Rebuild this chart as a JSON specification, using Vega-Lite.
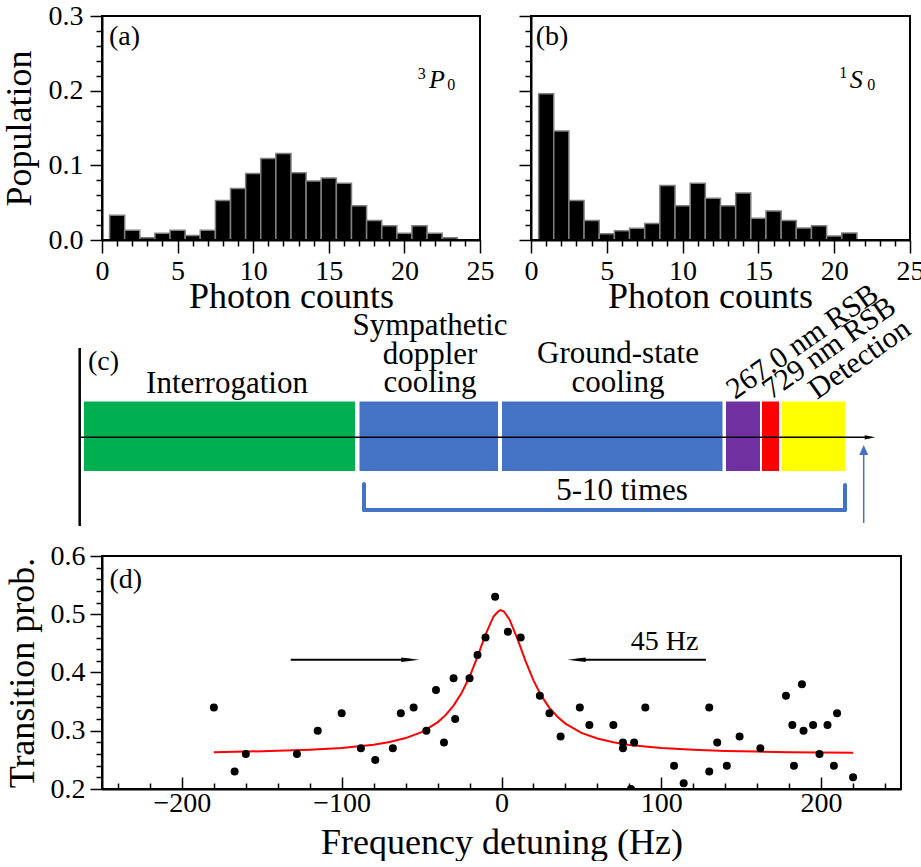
{
  "$schema": "https://vega.github.io/schema/vega-lite/v6.json",
  "padding": {"left": 1, "top": 2, "right": 0, "bottom": 0},
  "bounds": "flush",
  "spacing": 26,
  "config": {
    "font": "Liberation Serif",
    "view": {"stroke": "black", "strokeWidth": 2},
    "axis": {
      "grid": false, "domainColor": "black", "domainWidth": 2,
      "tickColor": "black", "tickWidth": 1.5,
      "labelFont": "Liberation Serif", "labelFontSize": 28, "labelColor": "black",
      "titleFont": "Liberation Serif", "titleFontSize": 36, "titleFontWeight": "normal", "titleColor": "black",
      "labelFlush": false
    },
    "text": {"font": "Liberation Serif", "fontSize": 28, "color": "black"}
  },
  "datasets": {
    "hist_3P0": [
      {"bin_start": 0.5, "bin_end": 1.5, "population": 0.033},
      {"bin_start": 1.5, "bin_end": 2.5, "population": 0.013},
      {"bin_start": 2.5, "bin_end": 3.5, "population": 0.003},
      {"bin_start": 3.5, "bin_end": 4.5, "population": 0.009},
      {"bin_start": 4.5, "bin_end": 5.5, "population": 0.013},
      {"bin_start": 5.5, "bin_end": 6.5, "population": 0.006},
      {"bin_start": 6.5, "bin_end": 7.5, "population": 0.013},
      {"bin_start": 7.5, "bin_end": 8.5, "population": 0.053},
      {"bin_start": 8.5, "bin_end": 9.5, "population": 0.069},
      {"bin_start": 9.5, "bin_end": 10.5, "population": 0.089},
      {"bin_start": 10.5, "bin_end": 11.5, "population": 0.109},
      {"bin_start": 11.5, "bin_end": 12.5, "population": 0.116},
      {"bin_start": 12.5, "bin_end": 13.5, "population": 0.090},
      {"bin_start": 13.5, "bin_end": 14.5, "population": 0.079},
      {"bin_start": 14.5, "bin_end": 15.5, "population": 0.083},
      {"bin_start": 15.5, "bin_end": 16.5, "population": 0.076},
      {"bin_start": 16.5, "bin_end": 17.5, "population": 0.046},
      {"bin_start": 17.5, "bin_end": 18.5, "population": 0.026},
      {"bin_start": 18.5, "bin_end": 19.5, "population": 0.019},
      {"bin_start": 19.5, "bin_end": 20.5, "population": 0.009},
      {"bin_start": 20.5, "bin_end": 21.5, "population": 0.019},
      {"bin_start": 21.5, "bin_end": 22.5, "population": 0.009},
      {"bin_start": 22.5, "bin_end": 23.5, "population": 0.003}
    ],
    "hist_1S0": [
      {"bin_start": 0.5, "bin_end": 1.5, "population": 0.196},
      {"bin_start": 1.5, "bin_end": 2.5, "population": 0.146},
      {"bin_start": 2.5, "bin_end": 3.5, "population": 0.053},
      {"bin_start": 3.5, "bin_end": 4.5, "population": 0.026},
      {"bin_start": 4.5, "bin_end": 5.5, "population": 0.0085},
      {"bin_start": 5.5, "bin_end": 6.5, "population": 0.0125},
      {"bin_start": 6.5, "bin_end": 7.5, "population": 0.0156},
      {"bin_start": 7.5, "bin_end": 8.5, "population": 0.022},
      {"bin_start": 8.5, "bin_end": 9.5, "population": 0.073},
      {"bin_start": 9.5, "bin_end": 10.5, "population": 0.046},
      {"bin_start": 10.5, "bin_end": 11.5, "population": 0.076},
      {"bin_start": 11.5, "bin_end": 12.5, "population": 0.056},
      {"bin_start": 12.5, "bin_end": 13.5, "population": 0.046},
      {"bin_start": 13.5, "bin_end": 14.5, "population": 0.063},
      {"bin_start": 14.5, "bin_end": 15.5, "population": 0.029},
      {"bin_start": 15.5, "bin_end": 16.5, "population": 0.039},
      {"bin_start": 16.5, "bin_end": 17.5, "population": 0.026},
      {"bin_start": 17.5, "bin_end": 18.5, "population": 0.016},
      {"bin_start": 18.5, "bin_end": 19.5, "population": 0.019},
      {"bin_start": 19.5, "bin_end": 20.5, "population": 0.0054},
      {"bin_start": 20.5, "bin_end": 21.5, "population": 0.0094}
    ],
    "sequence": [
      {"phase": "Interrogation", "start": -1.8, "end": 25.3},
      {"phase": "Sympathetic doppler cooling", "start": 25.75, "end": 39.6},
      {"phase": "Ground-state cooling", "start": 40.0, "end": 62.05},
      {"phase": "267.0 nm RSB", "start": 62.4, "end": 65.8},
      {"phase": "729 nm RSB", "start": 66.0, "end": 67.7},
      {"phase": "Detection", "start": 67.95, "end": 74.3}
    ],
    "scan": [
      {"detuning": -180, "prob": 0.34}, {"detuning": -167, "prob": 0.23}, {"detuning": -160, "prob": 0.26},
      {"detuning": -128, "prob": 0.26}, {"detuning": -115, "prob": 0.30}, {"detuning": -100, "prob": 0.33},
      {"detuning": -88, "prob": 0.27}, {"detuning": -79, "prob": 0.25}, {"detuning": -68, "prob": 0.27},
      {"detuning": -63, "prob": 0.33}, {"detuning": -55, "prob": 0.34}, {"detuning": -47, "prob": 0.30},
      {"detuning": -41, "prob": 0.37}, {"detuning": -36, "prob": 0.28}, {"detuning": -30, "prob": 0.39},
      {"detuning": -29, "prob": 0.32}, {"detuning": -20, "prob": 0.39}, {"detuning": -15, "prob": 0.43},
      {"detuning": -10, "prob": 0.46}, {"detuning": -4, "prob": 0.53}, {"detuning": 4, "prob": 0.47},
      {"detuning": 12, "prob": 0.46}, {"detuning": 24, "prob": 0.36}, {"detuning": 30, "prob": 0.33},
      {"detuning": 37, "prob": 0.29}, {"detuning": 49, "prob": 0.34}, {"detuning": 55, "prob": 0.31},
      {"detuning": 70, "prob": 0.31}, {"detuning": 76, "prob": 0.28}, {"detuning": 76, "prob": 0.27},
      {"detuning": 83, "prob": 0.28}, {"detuning": 81, "prob": 0.20}, {"detuning": 90, "prob": 0.34},
      {"detuning": 108, "prob": 0.24}, {"detuning": 114, "prob": 0.21}, {"detuning": 130, "prob": 0.34},
      {"detuning": 130, "prob": 0.23}, {"detuning": 135, "prob": 0.28}, {"detuning": 141, "prob": 0.24},
      {"detuning": 149, "prob": 0.29}, {"detuning": 162, "prob": 0.27}, {"detuning": 178, "prob": 0.36},
      {"detuning": 182, "prob": 0.31}, {"detuning": 183, "prob": 0.24}, {"detuning": 188, "prob": 0.38},
      {"detuning": 189, "prob": 0.30}, {"detuning": 195, "prob": 0.31}, {"detuning": 199, "prob": 0.26},
      {"detuning": 204, "prob": 0.31}, {"detuning": 208, "prob": 0.24}, {"detuning": 210, "prob": 0.33},
      {"detuning": 220, "prob": 0.22}
    ],
    "fit": [
      {"detuning": -180, "prob": 0.2633}, {"detuning": -160, "prob": 0.2642}, {"detuning": -140, "prob": 0.2655},
      {"detuning": -120, "prob": 0.2674}, {"detuning": -100, "prob": 0.2705}, {"detuning": -80, "prob": 0.2761},
      {"detuning": -70, "prob": 0.2807}, {"detuning": -60, "prob": 0.2874}, {"detuning": -50, "prob": 0.2977},
      {"detuning": -40, "prob": 0.3144}, {"detuning": -35, "prob": 0.3268}, {"detuning": -30, "prob": 0.3431},
      {"detuning": -25, "prob": 0.3646}, {"detuning": -20, "prob": 0.3926}, {"detuning": -15, "prob": 0.4273},
      {"detuning": -10, "prob": 0.4650}, {"detuning": -5, "prob": 0.4962}, {"detuning": -2, "prob": 0.5050}, {"detuning": -0.5, "prob": 0.507},
      {"detuning": 1.5, "prob": 0.5048}, {"detuning": 5, "prob": 0.4911}, {"detuning": 10, "prob": 0.4576}, {"detuning": 15, "prob": 0.4199},
      {"detuning": 20, "prob": 0.3865}, {"detuning": 25, "prob": 0.3598}, {"detuning": 30, "prob": 0.3394},
      {"detuning": 35, "prob": 0.3240}, {"detuning": 40, "prob": 0.3123}, {"detuning": 50, "prob": 0.2964},
      {"detuning": 60, "prob": 0.2866}, {"detuning": 70, "prob": 0.2801}, {"detuning": 80, "prob": 0.2757},
      {"detuning": 100, "prob": 0.2703}, {"detuning": 120, "prob": 0.2673}, {"detuning": 140, "prob": 0.2654},
      {"detuning": 160, "prob": 0.2642}, {"detuning": 180, "prob": 0.2633}, {"detuning": 200, "prob": 0.2627},
      {"detuning": 220, "prob": 0.2622}
    ]
  },
  "vconcat": [
    {
      "width": 808, "height": 224,
      "view": {"stroke": null},
      "resolve": {"scale": {"x": "independent", "y": "independent"}, "axis": {"x": "independent", "y": "independent"}},
      "layer": [
        {
          "layer": [
            {
              "data": {"name": "hist_3P0"},
              "mark": {"type": "bar", "fill": "black", "stroke": "#808080", "strokeWidth": 1.5},
              "encoding": {
                "x": {"field": "bin_start", "type": "quantitative",
                  "scale": {"domain": [0, 25], "range": [0, 378], "nice": false, "zero": false},
                  "axis": {"orient": "bottom", "title": "Photon counts", "values": [0, 5, 10, 15, 20, 25],
                    "tickSize": 13, "labelPadding": 4, "titlePadding": -6}},
                "x2": {"field": "bin_end"},
                "y": {"field": "population", "type": "quantitative",
                  "scale": {"domain": [0, 0.3], "nice": false},
                  "axis": {"orient": "left", "title": "Population", "values": [0, 0.1, 0.2, 0.3], "format": ".1f",
                    "tickSize": 12, "labelPadding": 7, "titlePadding": 10}},
                "y2": {"datum": 0}
              }
            },
            {"data": {"values": [{"label": "frame"}]}, "mark": {"type": "rect", "fillOpacity": 0, "stroke": "black", "strokeWidth": 2},
             "encoding": {"x": {"datum": 0}, "x2": {"datum": 25}, "y": {"datum": 0}, "y2": {"datum": 0.3}}},
            {"data": {"values": [{"label": "(a)"}]}, "mark": {"type": "text", "align": "left", "baseline": "middle"},
             "encoding": {"x": {"datum": 0.46}, "y": {"datum": 0.272}, "text": {"field": "label"}}},
            {"data": {"values": [{"label": "3"}]}, "mark": {"type": "text", "align": "center", "baseline": "middle", "fontSize": 16},
             "encoding": {"x": {"datum": 21.15}, "y": {"datum": 0.222}, "text": {"field": "label"}}},
            {"data": {"values": [{"label": "P"}]}, "mark": {"type": "text", "align": "center", "baseline": "middle", "fontSize": 26, "fontStyle": "italic"},
             "encoding": {"x": {"datum": 22.15}, "y": {"datum": 0.214}, "text": {"field": "label"}}},
            {"data": {"values": [{"label": "0"}]}, "mark": {"type": "text", "align": "center", "baseline": "middle", "fontSize": 16},
             "encoding": {"x": {"datum": 23.1}, "y": {"datum": 0.207}, "text": {"field": "label"}}}
          ]
        },
        {
          "data": {"values": [{"label": "minor ticks (a)"}]},
          "mark": {"type": "point", "opacity": 0},
          "encoding": {
            "x": {"datum": 0, "type": "quantitative", "scale": {"domain": [0, 25], "range": [0, 378], "nice": false, "zero": false},
              "axis": {"orient": "bottom", "values": [1,2,3,4,6,7,8,9,11,12,13,14,16,17,18,19,21,22,23,24], "labels": false, "domain": false, "title": null, "tickSize": 6}},
            "y": {"datum": 0, "type": "quantitative", "scale": {"domain": [0, 0.3], "nice": false, "zero": false},
              "axis": {"orient": "left", "values": [0.02,0.04,0.06,0.08,0.12,0.14,0.16,0.18,0.22,0.24,0.26,0.28], "labels": false, "domain": false, "title": null, "tickSize": 6}}
          }
        },
        {
          "layer": [
            {
              "data": {"name": "hist_1S0"},
              "mark": {"type": "bar", "fill": "black", "stroke": "#808080", "strokeWidth": 1.5},
              "encoding": {
                "x": {"field": "bin_start", "type": "quantitative",
                  "scale": {"domain": [0, 25], "range": [429, 808], "nice": false, "zero": false},
                  "axis": {"orient": "bottom", "title": "Photon counts", "values": [0, 5, 10, 15, 20, 25],
                    "tickSize": 13, "labelPadding": 4, "titlePadding": -6, "titleX": 608}},
                "x2": {"field": "bin_end"},
                "y": {"field": "population", "type": "quantitative",
                  "scale": {"domain": [0, 0.3], "nice": false},
                  "axis": {"orient": "left", "offset": -429, "title": null, "labels": false, "values": [0, 0.1, 0.2, 0.3], "tickSize": 12}},
                "y2": {"datum": 0}
              }
            },
            {"data": {"values": [{"label": "frame"}]}, "mark": {"type": "rect", "fillOpacity": 0, "stroke": "black", "strokeWidth": 2},
             "encoding": {"x": {"datum": 0}, "x2": {"datum": 25}, "y": {"datum": 0}, "y2": {"datum": 0.3}}},
            {"data": {"values": [{"label": "(b)"}]}, "mark": {"type": "text", "align": "left", "baseline": "middle"},
             "encoding": {"x": {"datum": 0.31}, "y": {"datum": 0.272}, "text": {"field": "label"}}},
            {"data": {"values": [{"label": "1"}]}, "mark": {"type": "text", "align": "center", "baseline": "middle", "fontSize": 16},
             "encoding": {"x": {"datum": 20.6}, "y": {"datum": 0.224}, "text": {"field": "label"}}},
            {"data": {"values": [{"label": "S"}]}, "mark": {"type": "text", "align": "center", "baseline": "middle", "fontSize": 26, "fontStyle": "italic"},
             "encoding": {"x": {"datum": 21.45}, "y": {"datum": 0.214}, "text": {"field": "label"}}},
            {"data": {"values": [{"label": "0"}]}, "mark": {"type": "text", "align": "center", "baseline": "middle", "fontSize": 16},
             "encoding": {"x": {"datum": 22.45}, "y": {"datum": 0.207}, "text": {"field": "label"}}}
          ]
        },
        {
          "data": {"values": [{"label": "minor ticks (b)"}]},
          "mark": {"type": "point", "opacity": 0},
          "encoding": {
            "x": {"datum": 0, "type": "quantitative", "scale": {"domain": [0, 25], "range": [429, 808], "nice": false, "zero": false},
              "axis": {"orient": "bottom", "values": [1,2,3,4,6,7,8,9,11,12,13,14,16,17,18,19,21,22,23,24], "labels": false, "domain": false, "title": null, "tickSize": 6}},
            "y": {"datum": 0, "type": "quantitative", "scale": {"domain": [0, 0.3], "nice": false, "zero": false},
              "axis": {"orient": "left", "offset": -429, "values": [0.02,0.04,0.06,0.08,0.12,0.14,0.16,0.18,0.22,0.24,0.26,0.28], "labels": false, "domain": false, "title": null, "tickSize": 6}}
          }
        }
      ]
    },
    {
      "width": 808, "height": 264,
      "view": {"stroke": null},
      "layer": [
        {
          "data": {"name": "sequence"},
          "mark": {"type": "rect"},
          "encoding": {
            "x": {"field": "start", "type": "quantitative", "scale": {"domain": [0, 80.8], "nice": false, "zero": false}, "axis": null},
            "x2": {"field": "end"},
            "y": {"datum": 12.85, "type": "quantitative", "scale": {"domain": [0, 26.4], "nice": false, "zero": false}, "axis": null},
            "y2": {"datum": 5.9},
            "color": {"field": "phase", "type": "nominal", "legend": null,
              "scale": {"domain": ["Interrogation", "Sympathetic doppler cooling", "Ground-state cooling", "267.0 nm RSB", "729 nm RSB", "Detection"],
                        "range": ["#00b050", "#4472c4", "#4472c4", "#7030a0", "#ff0000", "#ffff00"]}}
          }
        },
        {"data": {"values": [{"label": "time axis"}]}, "mark": {"type": "rule", "color": "black", "strokeWidth": 1.5},
         "encoding": {"x": {"datum": -2.2, "axis": null}, "x2": {"datum": 76.3}, "y": {"datum": 9.27, "axis": null}}},
        {"data": {"values": [{"label": "time axis head"}]}, "mark": {"type": "point", "shape": "M-1,-0.4L1,0L-1,0.4Z", "filled": true, "color": "black", "size": 112, "opacity": 1},
         "encoding": {"x": {"datum": 76.8, "axis": null}, "y": {"datum": 9.27, "axis": null}}},
        {"data": {"values": [{"label": "start line"}]}, "mark": {"type": "rule", "color": "black", "strokeWidth": 2.5},
         "encoding": {"x": {"datum": -2.23, "axis": null}, "y": {"datum": 0.4, "axis": null}, "y2": {"datum": 18.2}}},
        {"data": {"values": [{"label": "bracket left"}]}, "mark": {"type": "rule", "color": "#4472c4", "strokeWidth": 4, "strokeCap": "round"},
         "encoding": {"x": {"datum": 26.2, "axis": null}, "y": {"datum": 4.6, "axis": null}, "y2": {"datum": 2.0}}},
        {"data": {"values": [{"label": "bracket bottom"}]}, "mark": {"type": "rule", "color": "#4472c4", "strokeWidth": 4, "strokeCap": "round"},
         "encoding": {"x": {"datum": 26.2, "axis": null}, "x2": {"datum": 74.3}, "y": {"datum": 2.0, "axis": null}}},
        {"data": {"values": [{"label": "bracket right"}]}, "mark": {"type": "rule", "color": "#4472c4", "strokeWidth": 4, "strokeCap": "round"},
         "encoding": {"x": {"datum": 74.3, "axis": null}, "y": {"datum": 4.5, "axis": null}, "y2": {"datum": 2.0}}},
        {"data": {"values": [{"label": "detect arrow"}]}, "mark": {"type": "rule", "color": "#4472c4", "strokeWidth": 1.5},
         "encoding": {"x": {"datum": 76.17, "axis": null}, "y": {"datum": 0.7, "axis": null}, "y2": {"datum": 7.6}}},
        {"data": {"values": [{"label": "detect arrow head"}]}, "mark": {"type": "point", "shape": "M-0.9,1L0,-1L0.9,1Z", "filled": true, "color": "#4472c4", "size": 100, "opacity": 1},
         "encoding": {"x": {"datum": 76.17, "axis": null}, "y": {"datum": 8.0, "axis": null}}},
        {"data": {"values": [{"label": "(c)"}]}, "mark": {"type": "text", "align": "left", "baseline": "middle"},
         "encoding": {"x": {"datum": -1.4, "axis": null}, "y": {"datum": 16.8, "axis": null}, "text": {"field": "label"}}},
        {"data": {"values": [{"label": "Interrogation"}]}, "mark": {"type": "text", "align": "center", "baseline": "alphabetic", "fontSize": 31},
         "encoding": {"x": {"datum": 12.5, "axis": null}, "y": {"datum": 13.73, "axis": null}, "text": {"field": "label"}}},
        {"data": {"values": [{"label": "Sympathetic\ndoppler\ncooling"}]}, "mark": {"type": "text", "align": "center", "baseline": "alphabetic", "lineBreak": "\n", "lineHeight": 28.7, "fontSize": 31},
         "encoding": {"x": {"datum": 32.8, "axis": null}, "y": {"datum": 19.5, "axis": null}, "text": {"field": "label"}}},
        {"data": {"values": [{"label": "Ground-state\ncooling"}]}, "mark": {"type": "text", "align": "center", "baseline": "alphabetic", "lineBreak": "\n", "lineHeight": 28.7, "fontSize": 31},
         "encoding": {"x": {"datum": 51.6, "axis": null}, "y": {"datum": 16.67, "axis": null}, "text": {"field": "label"}}},
        {"data": {"values": [{"label": "5-10 times"}]}, "mark": {"type": "text", "align": "center", "baseline": "alphabetic", "fontSize": 31},
         "encoding": {"x": {"datum": 52.0, "axis": null}, "y": {"datum": 3.0, "axis": null}, "text": {"field": "label"}}},
        {"data": {"values": [{"label": "267.0 nm RSB"}]}, "mark": {"type": "text", "align": "left", "baseline": "alphabetic", "angle": -35, "fontSize": 30},
         "encoding": {"x": {"datum": 63.3, "axis": null}, "y": {"datum": 13.0, "axis": null}, "text": {"field": "label"}}},
        {"data": {"values": [{"label": "729 nm RSB"}]}, "mark": {"type": "text", "align": "left", "baseline": "alphabetic", "angle": -35, "fontSize": 30},
         "encoding": {"x": {"datum": 66.9, "axis": null}, "y": {"datum": 13.0, "axis": null}, "text": {"field": "label"}}},
        {"data": {"values": [{"label": "Detection"}]}, "mark": {"type": "text", "align": "left", "baseline": "alphabetic", "angle": -35, "fontSize": 30},
         "encoding": {"x": {"datum": 71.5, "axis": null}, "y": {"datum": 13.0, "axis": null}, "text": {"field": "label"}}}
      ]
    },
    {
      "width": 799, "height": 233,
      "resolve": {"scale": {"x": "independent", "y": "independent"}, "axis": {"x": "independent", "y": "independent"}},
      "layer": [
        {
          "layer": [
            {
              "data": {"name": "fit"},
              "mark": {"type": "line", "color": "#ff0000", "strokeWidth": 2},
              "encoding": {
                "x": {"field": "detuning", "type": "quantitative",
                  "scale": {"domain": [-250, 250], "nice": false, "zero": false},
                  "axis": {"orient": "bottom", "title": "Frequency detuning (Hz)", "values": [-200, -100, 0, 100, 200],
                    "tickSize": -12, "labelPadding": 12, "titlePadding": 8}},
                "y": {"field": "prob", "type": "quantitative",
                  "scale": {"domain": [0.2, 0.6], "nice": false, "zero": false},
                  "axis": {"orient": "left", "title": "Transition prob.", "values": [0.2, 0.3, 0.4, 0.5, 0.6], "format": ".1f",
                    "tickSize": 12, "labelPadding": 5, "titlePadding": 9}}
              }
            },
            {
              "data": {"name": "scan"},
              "mark": {"type": "circle", "color": "black", "size": 64, "opacity": 1, "clip": true},
              "encoding": {
                "x": {"field": "detuning", "type": "quantitative"},
                "y": {"field": "prob", "type": "quantitative"}
              }
            },
            {"data": {"values": [{"label": "arrow left"}]}, "mark": {"type": "rule", "color": "black", "strokeWidth": 2},
             "encoding": {"x": {"datum": -131.9}, "x2": {"datum": -57}, "y": {"datum": 0.4217}}},
            {"data": {"values": [{"label": "arrow left head"}]}, "mark": {"type": "point", "shape": "M-1,-0.25L1,0L-1,0.25Z", "filled": true, "color": "black", "size": 324, "opacity": 1},
             "encoding": {"x": {"datum": -57.1}, "y": {"datum": 0.4217}}},
            {"data": {"values": [{"label": "arrow right"}]}, "mark": {"type": "rule", "color": "black", "strokeWidth": 2},
             "encoding": {"x": {"datum": 127.9}, "x2": {"datum": 47}, "y": {"datum": 0.4217}}},
            {"data": {"values": [{"label": "arrow right head"}]}, "mark": {"type": "point", "shape": "M1,-0.25L-1,0L1,0.25Z", "filled": true, "color": "black", "size": 324, "opacity": 1},
             "encoding": {"x": {"datum": 47.0}, "y": {"datum": 0.4217}}},
            {"data": {"values": [{"label": "45 Hz"}]}, "mark": {"type": "text", "align": "center", "baseline": "middle"},
             "encoding": {"x": {"datum": 102}, "y": {"datum": 0.452}, "text": {"field": "label"}}},
            {"data": {"values": [{"label": "(d)"}]}, "mark": {"type": "text", "align": "left", "baseline": "middle"},
             "encoding": {"x": {"datum": -245.3}, "y": {"datum": 0.559}, "text": {"field": "label"}}}
          ]
        },
        {
          "data": {"values": [{"label": "minor ticks (d)"}]},
          "mark": {"type": "point", "opacity": 0},
          "encoding": {
            "x": {"datum": 0, "type": "quantitative", "scale": {"domain": [-250, 250], "nice": false, "zero": false},
              "axis": {"orient": "bottom", "values": [-240,-220,-180,-160,-140,-120,-80,-60,-40,-20,20,40,60,80,120,140,160,180,220,240], "labels": false, "domain": false, "title": null, "tickSize": -6}},
            "y": {"datum": 0.4, "type": "quantitative", "scale": {"domain": [0.2, 0.6], "nice": false, "zero": false},
              "axis": {"orient": "left", "values": [0.22,0.24,0.26,0.28,0.32,0.34,0.36,0.38,0.42,0.44,0.46,0.48,0.52,0.54,0.56,0.58], "labels": false, "domain": false, "title": null, "tickSize": 6}}
          }
        }
      ]
    }
  ]
}
